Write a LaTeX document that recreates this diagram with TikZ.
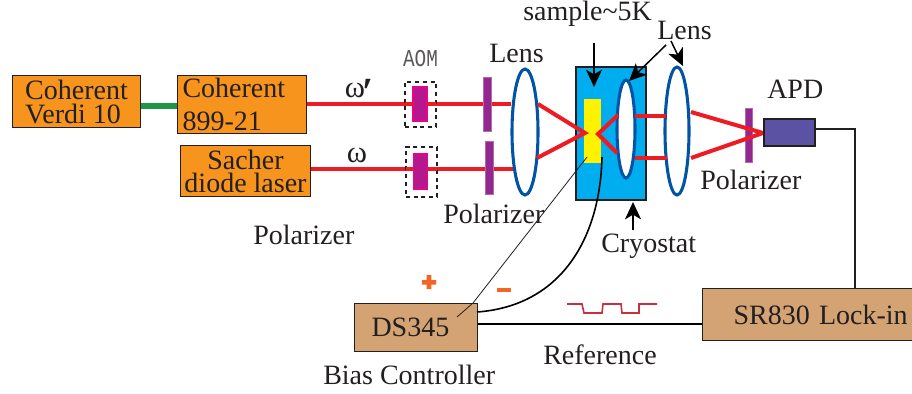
\documentclass[tikz,border=0pt]{standalone}
\usepackage{fontspec}
\setmainfont{Liberation Serif}
\newfontfamily\aomfont{Liberation Mono}
\usetikzlibrary{arrows.meta}
\definecolor{ink}{HTML}{231F20}
\definecolor{orangebox}{HTML}{F7941D}
\definecolor{tanbox}{HTML}{D3A373}
\definecolor{beam}{HTML}{ED1C24}
\definecolor{lensblue}{HTML}{0054A6}
\definecolor{cryo}{HTML}{00AEEF}
\definecolor{polar}{HTML}{92278F}
\definecolor{aomfill}{HTML}{B5178C}
\definecolor{aomedge}{HTML}{EC008C}
\definecolor{apdfill}{HTML}{5B52A3}
\definecolor{signo}{HTML}{F26522}
\definecolor{wave}{HTML}{C8303F}
\definecolor{pump}{HTML}{1E9646}
\tikzset{
  lbl/.style={font=\fontsize{21}{21}\selectfont,text=ink,inner sep=0pt},
  box/.style={draw=ink,line width=0.75pt,rectangle,inner sep=0pt,font=\fontsize{21}{20}\selectfont,text=ink,align=left},
  orangeb/.style={box,fill=orangebox},
  tanb/.style={box,fill=tanbox},
  lensd/.style={draw=lensblue,line width=2.3pt,fill=white},
  beamline/.style={draw=beam,line width=3pt},
  polarb/.style={fill=polar,draw=polar!70!white,line width=0.4pt},
  aomb/.style={fill=aomfill,draw=aomedge,line width=1.4pt},
  aomd/.style={draw=ink,line width=2pt,dash pattern=on 3pt off 2.8pt},
  wire/.style={draw=ink,line width=1pt},
  pointer/.style={draw=black,line width=1.1pt,-{Stealth[length=13pt,width=12pt,inset=3.5pt]}},
}
\begin{document}
\begin{tikzpicture}[x=0.75pt,y=-0.75pt]
\useasboundingbox (0,0) rectangle (912,393);
% lasers
\node[orangeb,minimum width=96pt,minimum height=39pt,anchor=north west] (verdi) at (12,75) {Coherent\\[-2pt]Verdi 10};
\node[orangeb,text width=89pt,inner xsep=3.75pt,minimum height=43.5pt,anchor=north west] (coh) at (177,75) {Coherent\\[4.75pt]899-21};
\node[orangeb,minimum width=97.5pt,minimum height=38.25pt,anchor=north west,align=center] (sacher) at (180,145) {Sacher\\[-2.75pt]diode laser};
\coordinate (ga) at (verdi.east |- 0,106);
\coordinate (gb) at (coh.west |- 0,106);
\draw[draw=pump,line width=4.5pt] (ga) -- (gb);
% cryostat
\node[draw=ink,fill=cryo,line width=1.4pt,minimum width=52.5pt,minimum height=99.75pt,anchor=north west,inner sep=0pt] (cryostat) at (575,66) {};
\node[fill=yellow,minimum width=12.75pt,minimum height=48pt,anchor=north west,inner sep=0pt] (sample) at (584,99) {};
% beams
\coordinate (b1a) at (coh.east |- 0,104);
\coordinate (b1b) at (511,104);
\coordinate (b2a) at (sacher.east |- 0,169);
\coordinate (b2b) at (513,169);
\draw[beamline] (b1a) -- (b1b);
\draw[beamline] (b2a) -- (b2b);
% AOMs
\node[aomd,minimum width=23.25pt,minimum height=33.75pt,inner sep=0pt] (aomdash1) at (420.5,104.5) {};
\node[aomb,minimum width=10.5pt,minimum height=26pt,inner sep=0pt] (aom1) at (420,104) {};
\node[aomd,minimum width=23.25pt,minimum height=37.5pt,inner sep=0pt] (aomdash2) at (421.5,172) {};
\node[aomb,minimum width=10.5pt,minimum height=26pt,inner sep=0pt] (aom2) at (420.5,171.5) {};
\draw[beam,line width=3pt] (405,104)--(413,104) (427,104)--(436,104) (406,169)--(413,169) (428,169)--(437,169);
% polarizers
\node[polarb,minimum width=6pt,minimum height=40.5pt,inner sep=0pt] (p1) at (487,104) {};
\node[polarb,minimum width=6pt,minimum height=39.75pt,inner sep=0pt] (p2) at (489,167.5) {};
% lenses
\draw[lensd] (525,132) ellipse [x radius=13,y radius=63];
\draw[lensd] (626,129) ellipse [x radius=9,y radius=49];
\draw[lensd] (677,131) ellipse [x radius=12,y radius=64];
% focus beams
\coordinate (f1) at (585,133); \coordinate (f2) at (598,134);
\coordinate (apdin) at (763,133);
\draw[beamline] (538,104) -- (f1) -- (537,158);
\draw[beamline] (618,115) -- (f2) -- (617,153);
\draw[beamline] (635,116) -- (666,116);
\draw[beamline] (635,158) -- (667,158);
\node[polarb,minimum width=5.25pt,minimum height=40.5pt,inner sep=0pt] (p3) at (748.5,135) {};
\draw[beamline] (691,112) -- (apdin) -- (691,158);
% APD
\node[box,fill=apdfill,line width=1.4pt,minimum width=38.25pt,minimum height=20.25pt,anchor=north west] (apd) at (763,118) {};
% lock-in, controller
\node[tanb,text width=157.5pt,minimum height=39pt,anchor=north west] (lock) at (702,288) {\hspace*{23.25pt}SR830 Lock-in};
\node[tanb,text width=92.25pt,minimum height=36pt,anchor=north west] (ds) at (354,303) {\hspace*{12.75pt}DS345};
% wires
\coordinate (w1) at (855,129);
\draw[wire] (apd.east |- w1) -- (w1) -- (w1 |- lock.north);
\coordinate (r1) at (ds.east |- 0,324);
\coordinate (r2) at (lock.west |- 0,324);
\draw[draw=black,line width=1.5pt] (r1) -- (r2);
\coordinate (sa) at (602,157); \coordinate (sb) at (587,157);
\coordinate (dsc) at (477,312); \coordinate (dsd) at (457,317);
\draw[draw=black,line width=1.2pt] (sa) .. controls (600,240) and (560,306) .. (dsc);
\draw[draw=ink,line width=0.6pt] (sb) -- (473,303) -- (dsd);
% waveform
\draw[draw=wave,line width=1.2pt] (567,304)--(582,304)--(584,313)--(602,313)--(603,304)--(621,304)--(622,313)--(639,313)--(639,304)--(657,304);
% plus and minus
\fill[signo] (422,280) rectangle (436,284.5) (426.7,275) rectangle (431.3,289);
\fill[signo] (497,288) rectangle (511,292);
% labels
\node[lbl,anchor=west] (t1) at (523,14) {sample\textasciitilde 5K};
\node[lbl,anchor=west] (t2) at (489,53) {Lens};
\node[lbl,anchor=west] (t3) at (657,30) {Lens};
\node[lbl,anchor=west] (t4) at (767,89) {APD};
\node[lbl,anchor=west] (t5) at (700,180) {Polarizer};
\node[lbl,anchor=west] (t6) at (443,214) {Polarizer};
\node[lbl,anchor=west] (t7) at (253,235) {Polarizer};
\node[lbl,anchor=west] (t8) at (601,246) {Cryostat};
\node[lbl,anchor=west] (t9) at (323,375) {Bias Controller};
\node[lbl,anchor=west] (t10) at (543,355) {Reference};
\node[lbl,font=\fontsize{23}{23}\selectfont] (om1) at (355,90) {ω};
\node[lbl,font=\bfseries\fontsize{30}{30}\selectfont] (pr) at (368,92) {′};
\node[lbl,font=\fontsize{23}{23}\selectfont] (om2) at (357,155) {ω};
\node[lbl,text=ink!75,font=\aomfont\fontsize{14.5}{15}\selectfont,yscale=1.25] (aomt) at (420.5,59) {AOM};
% pointers
\coordinate (a1) at (594,43); \coordinate (a2) at (594,87);
\coordinate (a3) at (666,45); \coordinate (a4) at (629,81);
\coordinate (a5) at (671,41); \coordinate (a6) at (683,66);
\coordinate (a7) at (633,230); \coordinate (a8) at (633,202);
\draw[pointer] (a1) -- (a2);
\draw[pointer] (a3) -- (a4);
\draw[pointer] (a5) -- (a6);
\draw[pointer] (a7) -- (a8);
\end{tikzpicture}
\end{document}
